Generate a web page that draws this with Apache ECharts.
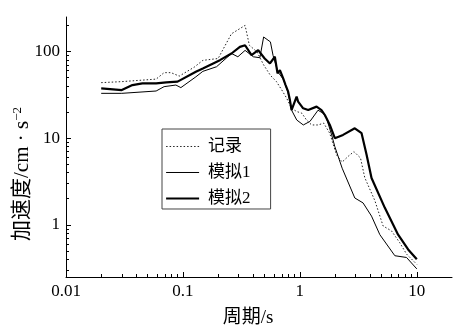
<!DOCTYPE html>
<html>
<head>
<meta charset="utf-8">
<script src="https://cdn.jsdelivr.net/npm/echarts@6/dist/echarts.min.js"></script>
<style>
html,body{margin:0;padding:0;background:#fff;}
#chart{width:466px;height:333px;}
</style>
</head>
<body>
<div id="chart"></div>
<script>
// Series data: [period (s), acceleration (cm/s^2)]
const seriesNames = ['记录', '模拟1', '模拟2'];
const record = [[0.02,43.7],[0.03,44.9],[0.059,48],[0.069,57],[0.079,57],[0.093,52],[0.125,66],[0.148,79],[0.2,83],[0.26,160],[0.34,200],[0.37,118],[0.43,99],[0.49,70],[0.56,53],[0.63,45],[0.70,36],[0.77,29],[0.85,22],[0.94,20.3],[1.04,19.4],[1.14,16.2],[1.26,14.2],[1.43,14.2],[1.6,14.9],[1.8,11.4],[2.06,6.4],[2.3,5.3],[2.6,6.2],[2.9,7.0],[3.3,5.9],[3.59,3.5],[4.38,1.9],[5.15,0.97],[6.08,0.85],[7.16,0.62],[8.17,0.46],[10,0.35]];
const sim1 = [[0.02,32.9],[0.03,32.9],[0.059,35],[0.069,39.3],[0.087,41],[0.096,38.3],[0.129,51],[0.148,59],[0.194,66.7],[0.26,94.8],[0.295,86.9],[0.34,103],[0.40,86.9],[0.455,84.7],[0.49,147],[0.56,129],[0.59,90],[0.65,58],[0.72,48],[0.79,34],[0.85,21],[0.94,16.2],[1.07,14.2],[1.22,15.6],[1.43,21],[1.58,19.4],[1.69,17],[1.87,10.9],[1.99,8],[2.3,4.5],[2.95,2.04],[3.47,1.79],[4.1,1.26],[4.83,0.77],[6.49,0.44],[8.17,0.42],[10,0.31]];
const sim2 = [[0.02,37.6],[0.03,35.9],[0.037,41],[0.045,42.9],[0.059,42.9],[0.072,44],[0.09,44.9],[0.129,58.4],[0.148,63.8],[0.207,79.4],[0.26,94.8],[0.307,113],[0.34,118],[0.386,90.6],[0.44,103.5],[0.50,83],[0.555,72.8],[0.611,86.9],[0.644,55.9],[0.675,61],[0.72,48.9],[0.755,41],[0.794,34.4],[0.822,27.5],[0.849,21.1],[0.938,30.1],[0.966,26.4],[1.067,22.1],[1.178,21.1],[1.39,23.1],[1.53,21.1],[1.636,18.5],[1.804,14.2],[1.99,10],[2.34,10.9],[2.95,13],[3.37,11.4],[3.72,6.43],[4.1,3.47],[5.33,1.57],[6.92,0.77],[8.43,0.52],[10,0.4]];

// Tick labels / tick positions
const xMajorTicks = [0.01, 0.1, 1, 10];
const xMinorTicks = [0.02,0.03,0.04,0.05,0.06,0.07,0.08,0.09,0.2,0.3,0.4,0.5,0.6,0.7,0.8,0.9,2,3,4,5,6,7,8,9];
const yMajorTicks = [1, 10, 100];
const yMinorTicks = [0.3,0.4,0.5,0.6,0.7,0.8,0.9,2,3,4,5,6,7,8,9,20,30,40,50,60,70,80,90,200];
const xTitle = '周期/s';
const yTitle = '加速度/cm · s{sup|−2}';

const FONT = "'Liberation Serif', 'Noto Sans CJK SC', serif";
const chart = echarts.init(document.getElementById('chart'), null, {renderer: 'canvas'});

function baseAxis(min, max) {
  return {
    type: 'log', logBase: 10, min: min, max: max,
    splitLine: {show: false}, minorSplitLine: {show: false}
  };
}
const xMin = 0.01, xMax = 20, yMin = 0.25, yMax = 250;

const styles = [
  {color: '#222', width: 1, type: [1.5, 2]},
  {color: '#000', width: 1, type: 'solid'},
  {color: '#000', width: 2.2, type: 'solid'}
];

chart.setOption({
  animation: false,
  backgroundColor: '#fff',
  grid: {left: 66, right: 14, top: 17, bottom: 56, containLabel: false},
  xAxis: [
    Object.assign(baseAxis(xMin, xMax), {
      axisLine: {show: true, lineStyle: {color: '#000', width: 1}},
      axisTick: {show: true, inside: true, length: 5, lineStyle: {color: '#000'}, customValues: xMajorTicks},
      axisLabel: {show: true, customValues: xMajorTicks, color: '#000', fontSize: 17, fontFamily: FONT, margin: 6,
        formatter: v => String(v)}
    }),
    Object.assign(baseAxis(xMin, xMax), {
      gridIndex: 0, position: 'bottom',
      axisLine: {show: false},
      axisTick: {show: true, inside: true, length: 3, lineStyle: {color: '#000'}, customValues: xMinorTicks},
      axisLabel: {show: false}
    })
  ],
  yAxis: [
    Object.assign(baseAxis(yMin, yMax), {
      axisLine: {show: true, lineStyle: {color: '#000', width: 1}},
      axisTick: {show: true, inside: true, length: 5, lineStyle: {color: '#000'}, customValues: yMajorTicks},
      axisLabel: {show: true, customValues: yMajorTicks, color: '#000', fontSize: 17, fontFamily: FONT, margin: 6,
        formatter: v => String(v)}
    }),
    Object.assign(baseAxis(yMin, yMax), {
      gridIndex: 0, position: 'left',
      axisLine: {show: false},
      axisTick: {show: true, inside: true, length: 3, lineStyle: {color: '#000'}, customValues: yMinorTicks},
      axisLabel: {show: false}
    })
  ],
  legend: {
    orient: 'vertical', left: 162, top: 129,
    data: seriesNames.map((n, i) => ({name: n, lineStyle: styles[i], itemStyle: {opacity: 0}})),
    itemWidth: 33, itemHeight: 13, itemGap: 9,
    padding: [9, 20, 2, 3],
    borderColor: '#444', borderWidth: 1,
    itemStyle: {opacity: 0},
    textStyle: {color: '#000', fontSize: 17, fontFamily: FONT, padding: [0, 0, 0, 4]}
  },
  series: [
    {name: seriesNames[0], type: 'line', data: record, symbol: 'none', xAxisIndex: 0, yAxisIndex: 0,
      lineStyle: styles[0], itemStyle: {color: '#222'}},
    {name: seriesNames[1], type: 'line', data: sim1, symbol: 'none', xAxisIndex: 0, yAxisIndex: 0,
      lineStyle: styles[1], itemStyle: {color: '#000'}},
    {name: seriesNames[2], type: 'line', data: sim2, symbol: 'none', xAxisIndex: 0, yAxisIndex: 0,
      lineStyle: styles[2], itemStyle: {color: '#000'}}
  ],
  graphic: [
    {type: 'text', x: 248, y: 318, style: {text: xTitle, fontSize: 19, fontFamily: FONT, fill: '#000', align: 'center', verticalAlign: 'middle'}},
    {type: 'text', x: 22, y: 174, rotation: Math.PI / 2,
      style: {text: yTitle, fontSize: 21, fontFamily: FONT, fill: '#000', align: 'center', verticalAlign: 'middle',
        rich: {sup: {fontSize: 13, fontFamily: FONT, fill: '#000', verticalAlign: 'top', padding: [0, 0, 8, 0]}}}}
  ]
});
</script>
</body>
</html>
